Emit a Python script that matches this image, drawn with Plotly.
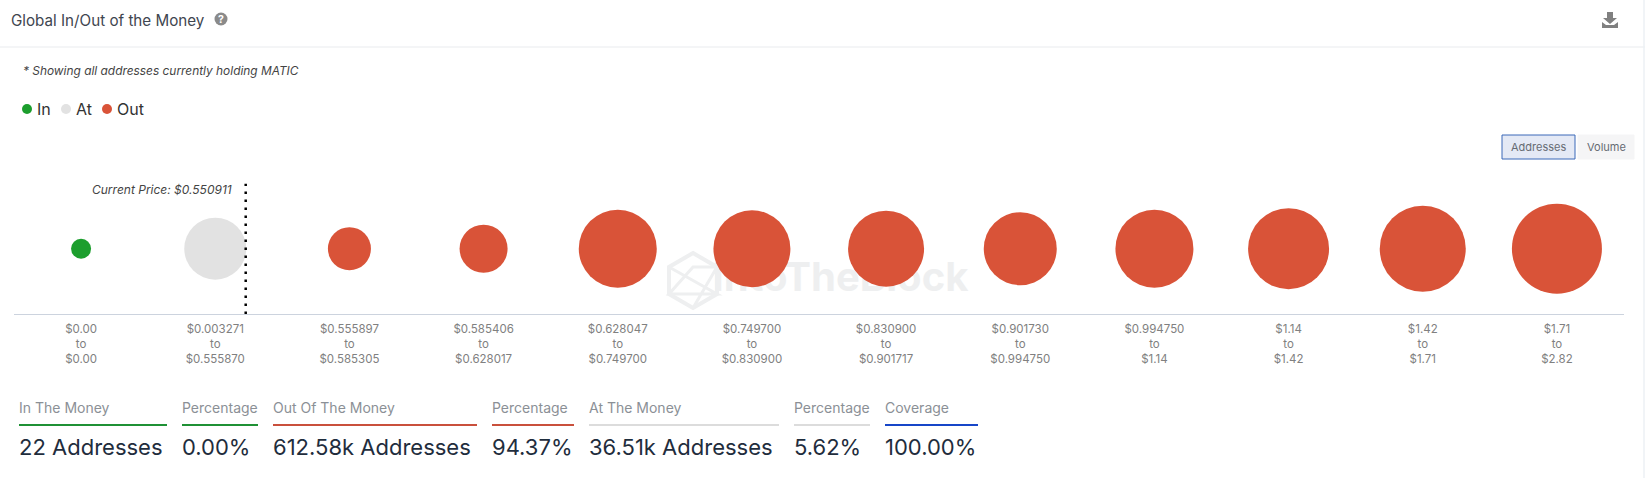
import plotly.graph_objects as go

W, H = 1645, 478
FONT = "Inter, 'Noto Sans', sans-serif"

# ---- data ----
range_from = ["$0.00", "$0.003271", "$0.555897", "$0.585406", "$0.628047", "$0.749700",
              "$0.830900", "$0.901730", "$0.994750", "$1.14", "$1.42", "$1.71"]
range_to = ["$0.00", "$0.555870", "$0.585305", "$0.628017", "$0.749700", "$0.830900",
            "$0.901717", "$0.994750", "$1.14", "$1.42", "$1.71", "$2.82"]
bin_status = ["In", "At"] + ["Out"] * 10
addresses = [22, 36510, 17600, 21900, 57800, 56300, 54900, 50600, 57800, 62300, 70300, 77000]
current_price_label = "Current Price: $0.550911"
current_price_pos = 1.227
stat_labels = ["In The Money", "Percentage", "Out Of The Money", "Percentage",
               "At The Money", "Percentage", "Coverage"]
stat_values = ["22 Addresses", "0.00%", "612.58k Addresses", "94.37%",
               "36.51k Addresses", "5.62%", "100.00%"]
legend_names = ["In", "At", "Out"]

# ---- styles ----
COLORS = {"In": "#1c9e2d", "At": "#e2e2e2", "Out": "#d95338"}
STAT_COLORS = ["#1f9135", "#1f9135", "#c9503c", "#c9503c", "#dcdcdc", "#dcdcdc", "#1746c8"]
STAT_X = [(19, 167), (182, 258), (273, 477), (492, 574), (589, 779), (794, 870), (885, 978)]
LEGEND_DOT_X = [27, 66, 107]
LEGEND_TEXT_X = [37, 76, 117]

SIZEREF = 2 * 36510 / 62 ** 2  # area mode: calibrated on the At bubble


def fx(px):
    return px / W


def fy(py):
    return 1 - py / H


def note(text, x, y, size, color, anchor="left", italic=False, bold=False):
    if italic:
        text = f"<i>{text}</i>"
    if bold:
        text = f"<b>{text}</b>"
    shift = {"left": -2, "right": 2, "center": 0}[anchor]
    return dict(text=text, x=fx(x + shift), y=fy(y), xref="paper", yref="paper", xanchor=anchor,
                yanchor="middle", showarrow=False, font=dict(family=FONT, size=size, color=color))


def line(x0, y0, x1, y1, color, width=1, layer="above"):
    return dict(type="line", xref="paper", yref="paper", x0=fx(x0), x1=fx(x1), y0=fy(y0), y1=fy(y1),
                line=dict(color=color, width=width), layer=layer)


def rect(x0, y0, x1, y1, fill, border=None):
    return dict(type="rect", xref="paper", yref="paper", x0=fx(x0), x1=fx(x1), y0=fy(y0), y1=fy(y1),
                fillcolor=fill, line=dict(color=border or fill, width=1), layer="above")


def dot(cx, cy, d, color):
    return dict(type="circle", xref="paper", yref="paper", x0=fx(cx - d / 2), x1=fx(cx + d / 2),
                y0=fy(cy - d / 2), y1=fy(cy + d / 2), fillcolor=color, line=dict(width=0), layer="above")


def poly(points, fill=None, stroke=None, width=1, layer="above", close=True):
    path = "M" + " L".join(f"{fx(x):.5f},{fy(y):.5f}" for x, y in points) + (" Z" if close else "")
    return dict(type="path", xref="paper", yref="paper", path=path, fillcolor=fill or "rgba(0,0,0,0)",
                line=dict(color=stroke or "rgba(0,0,0,0)", width=width), layer=layer)


positions = list(range(len(range_from)))
tick_text = [f"{a}<br>to<br>{b}" for a, b in zip(range_from, range_to)]

fig = go.Figure()

# watermark word first, so that the bubbles sit on top of it
fig.add_trace(go.Scatter(x=[5.66], y=[-0.49], mode="text", text=["<b>IntoTheBlock</b>"], hoverinfo="skip",
                         textfont=dict(family=FONT, size=40, color="#eeeff0"), showlegend=False,
                         cliponaxis=False))

for status in legend_names:
    idx = [i for i in positions if bin_status[i] == status]
    fig.add_trace(go.Scatter(
        x=[positions[i] for i in idx],
        y=[0 for _ in idx],
        mode="markers",
        name=status,
        showlegend=False,
        cliponaxis=False,
        marker=dict(size=[addresses[i] for i in idx], sizemode="area", sizeref=SIZEREF, sizemin=10,
                    color=COLORS[status], opacity=1, line=dict(width=0)),
        customdata=[f"{range_from[i]} to {range_to[i]}" for i in idx],
        hovertemplate="%{customdata}<br>%{marker.size:,} addresses<extra>" + status + "</extra>",
    ))

shapes = [
    line(0, 47, W, 47, "#e9ebee"),
    line(1644, 0, 1644, H, "#edf0f5", 1.5),
    # current price marker
    dict(type="line", xref="x", yref="y", x0=current_price_pos, x1=current_price_pos, y0=-1, y1=1,
         line=dict(color="#000000", width=2.5, dash="2.5px,5.5px"), layer="above"),
    # buttons
    rect(1502, 135, 1575, 159, "#e4e9f5", "#3a69b8"),
    rect(1578, 135, 1634, 159, "#f5f5f6"),
    # help icon
    dot(221, 19, 13, "#8a8a8a"),
    # download icon
    poly([(1607, 12), (1613, 12), (1613, 18), (1617, 18), (1610, 24), (1603, 18), (1607, 18)], fill="#808080"),
    poly([(1602, 22), (1606, 25), (1614, 25), (1618, 22), (1618, 28), (1602, 28)], fill="#808080"),
    # watermark logo
    poly([(693, 253), (717, 267), (717, 294), (693, 308), (669, 294), (669, 267)], stroke="#eeeff0", width=4, layer="below"),
    poly([(669, 267), (717, 294), (669, 294), (693, 267), (717, 267), (693, 308)], stroke="#eeeff0", width=3, layer="below", close=False),
]

annotations = [
    note("Global In/Out of the Money", 11, 21, 15.2, "#3f4650"),
    note("?", 221, 19.5, 10.5, "#ffffff", "center", bold=True),
    note("* Showing all addresses currently holding MATIC", 23, 71, 11.9, "#444444", italic=True),
    note(current_price_label, 232, 189.5, 12, "#444444", "right", italic=True),
    note("Addresses", 1538.5, 147, 11, "#666b73", "center"),
    note("Volume", 1606, 147, 11, "#666b73", "center"),
]

for name, dx, tx in zip(legend_names, LEGEND_DOT_X, LEGEND_TEXT_X):
    shapes.append(dot(dx, 109, 10, COLORS[name]))
    annotations.append(note(name, tx, 109, 16, "#333333"))

for label, value, color, (x0, x1) in zip(stat_labels, stat_values, STAT_COLORS, STAT_X):
    shapes.append(line(x0, 425, x1, 425, color, 2))
    annotations.append(note(label, x0, 407, 14, "#8b9096"))
    annotations.append(note(value, x0, 447, 22, "#1f2d3d"))

fig.update_layout(
    width=W,
    height=H,
    autosize=False,
    margin=dict(l=0, r=0, t=0, b=0),
    paper_bgcolor="#ffffff",
    plot_bgcolor="rgba(0,0,0,0)",
    showlegend=False,
    xaxis=dict(domain=[fx(14), fx(1624)], range=[-0.5, 11.5], tickmode="array", tickvals=positions,
               ticktext=tick_text, showgrid=False, zeroline=False, showline=True, linecolor="#ccd3de",
               linewidth=1, ticks="", fixedrange=True, tickangle=0, ticklabelstandoff=4,
               tickfont=dict(family=FONT, size=11.5, color="#808080")),
    yaxis=dict(domain=[fy(314), fy(183.4)], range=[-1, 1], visible=False, fixedrange=True),
    shapes=shapes,
    annotations=annotations,
)

fig.write_html("out.html", config={"displayModeBar": False},
               post_script="document.body.style.margin='0';document.documentElement.style.overflow='hidden';window.dispatchEvent(new Event('resize'));")
